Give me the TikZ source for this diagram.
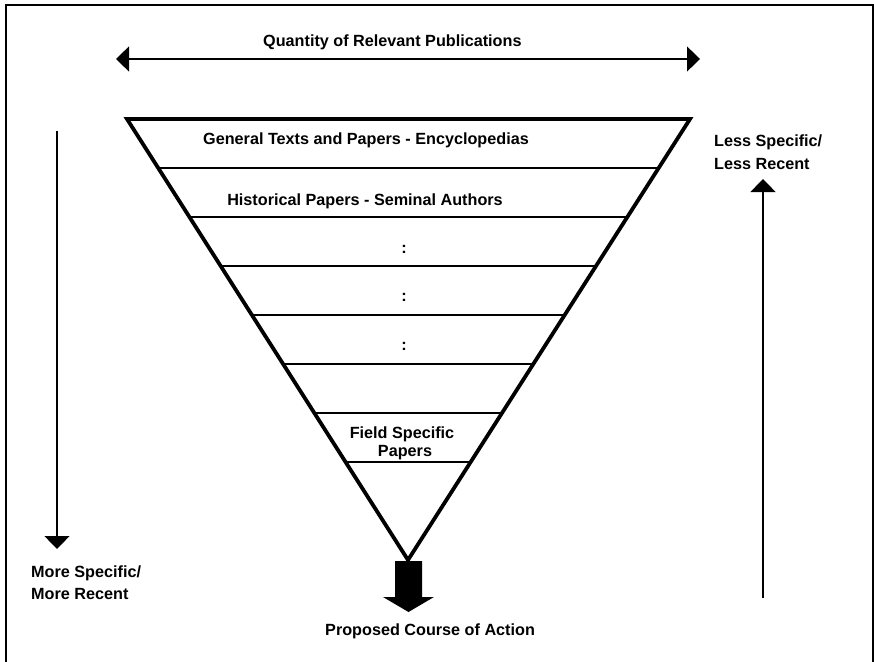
\documentclass[tikz,border=0pt]{standalone}
\usepackage{fontspec}
\setmainfont{Liberation Sans}
\usetikzlibrary{arrows.meta,calc}
\begin{document}
\begin{tikzpicture}[x=1pt,y=-1pt,
  >={Triangle[width=25pt,length=13pt]},
  lbl/.style={font=\bfseries\fontsize{16.2}{23}\selectfont, inner sep=0pt, anchor=base},
  leftlbl/.style={lbl, anchor=base west},
  funnel/.style={line width=3.8pt, line join=miter},
  tier/.style={line width=1.8pt},
  thinarrow/.style={line width=1.2pt, ->}]
  \useasboundingbox (0,0) rectangle (874,661);
  % outer frame
  \draw[line width=2.3pt] (6,5) rectangle (873,690);

  % quantity axis
  \coordinate (qL) at (116,59);
  \coordinate (qR) at (700,59);
  \draw[line width=1.2pt, <->] (qL) -- (qR);
  \node[leftlbl] (qty) at (263,46) {Quantity of Relevant Publications};

  % the funnel with its tiers
  \coordinate (A) at (127,119);
  \coordinate (B) at (690,119);
  \coordinate (T) at (408,560);
  \foreach \t in {0.111,0.222,0.333,0.444,0.555,0.666,0.777} {
    \draw[tier] ($(A)!\t!(T)$) -- ($(B)!\t!(T)$);
  }
  \draw[funnel] (A) -- (B) -- (T) -- cycle;

  \node[lbl] (gen) at (366,144) {General Texts and Papers - Encyclopedias};
  \node[lbl] (hist) at (365,205) {Historical Papers - Seminal Authors};
  \node[lbl] (d1) at (404,253) {:};
  \node[lbl] (d2) at (404,301) {:};
  \node[lbl] (d3) at (404,350) {:};
  \node[lbl] (field) at (402,438) {Field Specific};
  \node[lbl] (papers) at (405,456) {Papers};

  % outcome arrow below the funnel tip
  \fill[black] (395,561) -- (422,561) -- (422,597) -- (434,597) -- (408.5,612)
    -- (383,597) -- (395,597) -- cycle;
  \node[leftlbl] (action) at (325,635) {Proposed Course of Action};

  % specificity axes
  \coordinate (l1) at (57,131);
  \coordinate (l2) at (57,549);
  \draw[thinarrow] (l1) -- (l2);
  \node[leftlbl] (more1) at (31,577) {More Specific/};
  \node[leftlbl] (more2) at (31,599) {More Recent};

  \coordinate (r1) at (763,598);
  \coordinate (r2) at (763,179);
  \draw[thinarrow] (r1) -- (r2);
  \node[leftlbl] (less1) at (714,146) {Less Specific/};
  \node[leftlbl] (less2) at (714,169) {Less Recent};
\end{tikzpicture}
\end{document}
